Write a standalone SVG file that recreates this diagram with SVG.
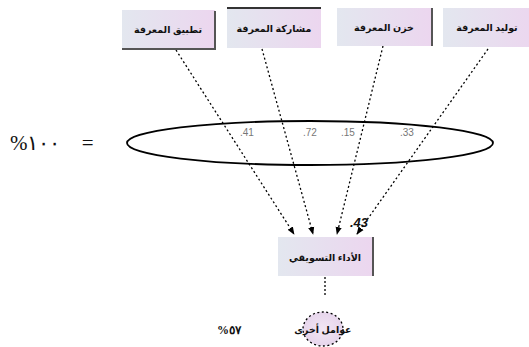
<svg xmlns="http://www.w3.org/2000/svg" width="529" height="347" viewBox="0 0 529 347">
  <defs>
    <linearGradient id="boxFill" x1="0" y1="0" x2="1" y2="0">
      <stop offset="0" stop-color="#e3e7ef"/>
      <stop offset="1" stop-color="#ecd6ef"/>
    </linearGradient>
    <radialGradient id="circFill" cx="0.5" cy="0.5" r="0.6">
      <stop offset="0" stop-color="#f2e6f4"/>
      <stop offset="1" stop-color="#e4d2ea"/>
    </radialGradient>
    <marker id="arr" viewBox="0 0 10 10" refX="9" refY="5" markerWidth="6" markerHeight="6" orient="auto">
      <path d="M0,1 L10,5 L0,9 Z" fill="#000"/>
    </marker>
    <clipPath id="page"><rect x="0" y="0" width="529" height="347"/></clipPath>
  </defs>
  <style>
    .box { fill: url(#boxFill); stroke: none; }
    .shadow { stroke: #555; stroke-width: 2; fill: none; }
    .lbl { font-family: "Noto Sans", "DejaVu Sans", sans-serif; font-size: 9.5px; font-weight: bold; fill: #111; text-anchor: middle; direction: rtl; }
    .conn { stroke: #000; stroke-width: 1.3; stroke-dasharray: 2 2.5; fill: none; marker-end: url(#arr); }
    .coef { font-family: "Liberation Sans", sans-serif; font-size: 10px; fill: #777; }
    .pct { font-family: "Liberation Serif", "DejaVu Serif", serif; fill: #111; unicode-bidi: bidi-override; direction: ltr; }
  </style>

  <!-- connectors -->
  <g id="connectors">
    <line class="conn" x1="176" y1="50" x2="294" y2="234"/>
    <line class="conn" x1="262" y1="49" x2="313" y2="234"/>
    <line class="conn" x1="383" y1="46" x2="337" y2="234"/>
    <line class="conn" x1="488" y1="49" x2="357" y2="234"/>
    <line x1="325" y1="277" x2="325" y2="295" stroke="#000" stroke-width="1.3" stroke-dasharray="2 2"/>
    <ellipse cx="310" cy="143" rx="183" ry="22" fill="none" stroke="#000" stroke-width="1.8"/>
  </g>

  <!-- path coefficients -->
  <g id="coefficients">
    <text class="coef" x="240" y="136">.41</text>
    <text class="coef" x="303" y="136">.72</text>
    <text class="coef" x="341" y="136">.15</text>
    <text class="coef" x="400" y="136">.33</text>
    <text x="350" y="227" font-family="Liberation Sans, sans-serif" font-size="13" font-weight="bold" font-style="italic" fill="#111">.43</text>
  </g>

  <!-- independent variables -->
  <g id="node1">
    <rect class="box" x="122" y="10" width="93" height="39"/>
    <polyline class="shadow" points="215,11 215,49 122,49"/>
    <text class="lbl" x="168" y="33">تطبيق المعرفة</text>
  </g>
  <g id="node2">
    <rect class="box" x="227" y="8" width="94" height="40"/>
    <line x1="227" y1="8" x2="321" y2="8" stroke="#333" stroke-width="2"/>
    <text class="lbl" x="274" y="32">مشاركة المعرفة</text>
  </g>
  <g id="node3">
    <rect class="box" x="337" y="8" width="95" height="38"/>
    <line class="shadow" x1="432" y1="8" x2="432" y2="46"/>
    <text class="lbl" x="384" y="31">خزن المعرفة</text>
  </g>
  <g id="node4" clip-path="url(#page)">
    <rect class="box" x="443" y="8" width="92" height="39"/>
    <text class="lbl" x="487" y="31">توليد المعرفة</text>
  </g>

  <!-- dependent variable -->
  <g id="node5">
    <rect class="box" x="278" y="237" width="95" height="39"/>
    <line class="shadow" x1="373" y1="237" x2="373" y2="276"/>
    <text class="lbl" x="325" y="261">الأداء التسويقي</text>
  </g>

  <!-- error term -->
  <g id="node6">
    <ellipse cx="323" cy="329" rx="20" ry="17" fill="url(#circFill)" stroke="#000" stroke-width="1.3" stroke-dasharray="2 2.5"/>
    <text class="lbl" x="323" y="333">عوامل أخرى</text>
  </g>

  <!-- explained variance -->
  <text class="pct" x="10" y="150" font-size="21" letter-spacing="2" word-spacing="16">%١٠٠ =</text>
  <text class="pct" x="217" y="334" font-size="12" font-weight="bold" letter-spacing="3">%٥٧</text>
</svg>
